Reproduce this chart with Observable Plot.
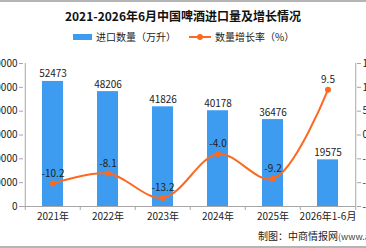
<!DOCTYPE html>
<html>
<head>
<meta charset="utf-8">
<script src="https://cdn.jsdelivr.net/npm/d3@7"></script>
<script src="https://cdn.jsdelivr.net/npm/@observablehq/plot@0.6"></script>
<style>
  html, body { margin: 0; padding: 0; background: #fff; }
  body { position: relative; width: 366px; height: 248px; overflow: hidden;
         font-family: "Noto Sans CJK SC", "DejaVu Sans", sans-serif; color: #222; }
  .topline { position: absolute; left: 0; top: 0; width: 366px; height: 2px; background: #b4b4b4; }
  .bottomline { position: absolute; left: 0; top: 246px; width: 366px; height: 2px; background: #b4b4b4; }
  .title { position: absolute; left: 0; top: 7px; width: 366px; text-align: center;
           font-size: 12px; font-weight: bold; line-height: 18px; color: #111; }
  .legend { position: absolute; top: 29px; font-size: 10px; line-height: 16px; color: #222; white-space: nowrap; }
  .swatch { display: inline-block; width: 19px; height: 6px; background: #3d9cf0; vertical-align: middle; margin-right: 4px; position: relative; top: -1px; }
  .legend svg { vertical-align: middle; margin-right: 4px; position: relative; top: -1px; }
  #chart { position: absolute; left: 0; top: 46px; }
  .source { position: absolute; left: 258px; top: 228px; font-size: 10px; line-height: 16px; white-space: nowrap; color: #222; }
  .source span { font-size: 9px; color: #444; }
</style>
</head>
<body>
<div class="topline"></div>
<div class="title">2021-2026年6月中国啤酒进口量及增长情况</div>
<div class="legend" style="left:73px"><span class="swatch"></span>进口数量（万升）</div>
<div class="legend" style="left:189px"><svg width="22" height="8"><line x1="0" y1="4" x2="22" y2="4" stroke="#fd6a1f" stroke-width="2"/><circle cx="11" cy="4" r="3" fill="#fd6a1f"/></svg>数量增长率（%）</div>
<div id="chart"></div>
<div class="source">制图：中商情报网<span>(www.askci.com)</span></div>
<div class="bottomline"></div>
<script>
// Categories and series
const years = ["2021年", "2022年", "2023年", "2024年", "2025年", "2026年1-6月"];
const imports = [52473, 48206, 41826, 40178, 36476, 19575];   // 万升
const growth = [-10.2, -8.1, -13.2, -4.0, -9.2, 9.5];          // %
const leftTicks = [0, 10000, 20000, 30000, 40000, 50000, 60000];
const rightTicks = [-15, -10, -5, 0, 5, 10, 15];

const W = 366, H = 186;
const mL = 23, mR = 10, mT = 17, mB = 26;
const bw = (W - mL - mR) / years.length;

// growth rate shares the vertical axis through a linear mapping onto the volume domain
const rateToY = d3.scaleLinear([-15, 15], [0, 60000]);

const rows = years.map((year, i) => ({
  year, volume: imports[i], rate: growth[i], rateY: rateToY(growth[i])
}));

const gray = "#a6a6a6";
const blue = "#3d9cf0";
const orange = "#fd6a1f";
const font = "'Noto Sans CJK SC', 'DejaVu Sans', sans-serif";

const chart = Plot.plot({
  width: W, height: H,
  marginLeft: mL, marginRight: mR, marginTop: mT, marginBottom: mB,
  style: { fontFamily: font, fontSize: "10px", color: "#222", background: "transparent", overflow: "visible" },
  x: { type: "band", domain: years, padding: 0 },
  y: { domain: [0, 60000] },
  marks: [
    // bars
    Plot.barY(rows, { x: "year", y: "volume", fill: blue, insetLeft: 17, insetRight: 17 }),
    // frame lines
    Plot.ruleY([0], { stroke: gray }),
    Plot.ruleX([years[0]], { dx: -bw / 2, stroke: gray }),
    Plot.ruleX([years[years.length - 1]], { dx: bw / 2, stroke: gray }),
    // category separators below the baseline
    Plot.ruleX(years, { dx: -bw / 2, y1: 0, y2: 0, insetTop: 0, insetBottom: -4, stroke: gray }),
    Plot.ruleX([years[years.length - 1]], { dx: bw / 2, y1: 0, y2: 0, insetTop: 0, insetBottom: -4, stroke: gray }),
    // axes
    Plot.axisY(leftTicks, { anchor: "left", tickSize: 4, tickPadding: 2, stroke: gray, fill: "#222", tickFormat: d3.format("d"), label: null }),
    Plot.axisY(rightTicks.map(rateToY), { anchor: "right", tickSize: 4, tickPadding: 2, stroke: gray, fill: "#222", tickFormat: v => Math.round(rateToY.invert(v)), label: null }),
    Plot.axisX({ tickSize: 0, tickPadding: 6, fill: "#222", label: null }),
    // bar value labels
    Plot.text(rows, { x: "year", y: "volume", text: d => String(d.volume), lineAnchor: "bottom", dy: -4, fill: "#222" }),
    // growth line
    Plot.line(rows, { x: "year", y: "rateY", stroke: orange, strokeWidth: 2, curve: "catmull-rom" }),
    Plot.dot(rows, { x: "year", y: "rateY", fill: orange, r: 3 }),
    Plot.text(rows, { x: "year", y: "rateY", text: d => d.rate.toFixed(1), lineAnchor: "bottom", dy: -7, fill: "#222" })
  ]
});
document.getElementById("chart").appendChild(chart);
</script>
</body>
</html>
